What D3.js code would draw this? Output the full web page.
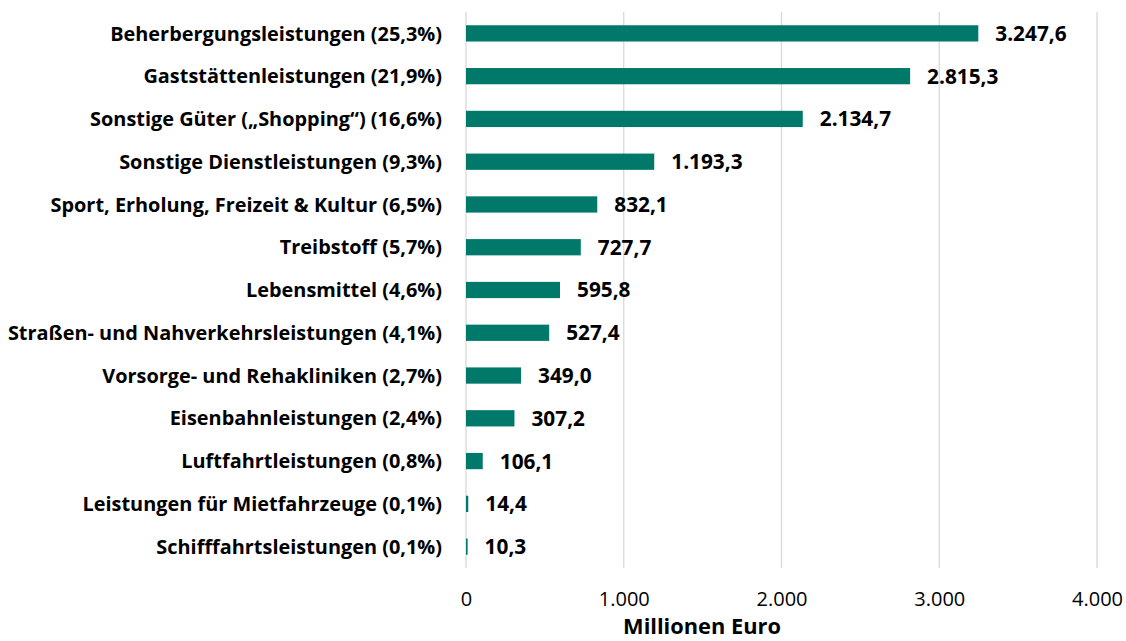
<!DOCTYPE html>
<html><head><meta charset="utf-8">
<script src="https://cdn.jsdelivr.net/npm/d3@7"></script>
<style>body{margin:0;background:#fff}svg{display:block}</style>
</head><body>
<svg id="c" width="1126" height="641"></svg>
<script>
const categories = [
  "Beherbergungsleistungen (25,3%)",
  "Gaststättenleistungen (21,9%)",
  "Sonstige Güter („Shopping“) (16,6%)",
  "Sonstige Dienstleistungen (9,3%)",
  "Sport, Erholung, Freizeit & Kultur (6,5%)",
  "Treibstoff (5,7%)",
  "Lebensmittel (4,6%)",
  "Straßen- und Nahverkehrsleistungen (4,1%)",
  "Vorsorge- und Rehakliniken (2,7%)",
  "Eisenbahnleistungen (2,4%)",
  "Luftfahrtleistungen (0,8%)",
  "Leistungen für Mietfahrzeuge (0,1%)",
  "Schifffahrtsleistungen (0,1%)"
];
const values = [3247.6, 2815.3, 2134.7, 1193.3, 832.1, 727.7, 595.8, 527.4, 349.0, 307.2, 106.1, 14.4, 10.3];
const tickValues = [0, 1000, 2000, 3000, 4000];
const axisTitle = "Millionen Euro";

const de = d3.formatLocale({decimal: ",", thousands: ".", grouping: [3], currency: ["", " €"]});
const fmtVal = de.format(",.1f");
const fmtTick = de.format(",d");

const svg = d3.select("#c");
const font = "'Open Sans', sans-serif";
const x = d3.scaleLinear().domain([0, 4000]).range([466, 1097]);
const y = d3.scaleBand().domain(categories).range([12, 568]).paddingInner(0.62).paddingOuter(0.31);

// grid
svg.append("g").selectAll("line").data(tickValues).join("line")
  .attr("x1", d => x(d)).attr("x2", d => x(d))
  .attr("y1", 12).attr("y2", 568)
  .attr("stroke", "#d9d9d9").attr("stroke-width", 1.3);

// bars
svg.append("g").selectAll("rect").data(values).join("rect")
  .attr("x", x(0)).attr("y", (d, i) => y(categories[i]))
  .attr("width", d => x(d) - x(0)).attr("height", y.bandwidth())
  .attr("fill", "#00786A");

// category labels
svg.append("g").selectAll("text").data(categories).join("text")
  .attr("x", 442).attr("y", d => y(d) + y.bandwidth() / 2)
  .attr("dy", "0.36em").attr("text-anchor", "end")
  .attr("font-family", font).attr("font-weight", "bold").attr("font-size", 19.9)
  .attr("fill", "#000").text(d => d);

// value labels
svg.append("g").selectAll("text").data(values).join("text")
  .attr("x", d => x(d) + 17).attr("y", (d, i) => y(categories[i]) + y.bandwidth() / 2)
  .attr("dy", "0.36em").attr("text-anchor", "start")
  .attr("font-family", font).attr("font-weight", "bold").attr("font-size", 20.8)
  .attr("fill", "#000").text(d => fmtVal(d));

// x axis
const axis = d3.axisBottom(x).tickValues(tickValues).tickFormat(fmtTick).tickSize(0).tickPadding(0);
const ga = svg.append("g").attr("transform", "translate(0,606)").call(axis);
ga.select(".domain").remove();
ga.selectAll("text").attr("font-family", font).attr("font-size", 20).attr("fill", "#000").attr("dy", 0).attr("y", 0);

svg.append("text").attr("x", 702).attr("y", 634).attr("text-anchor", "middle")
  .attr("font-family", font).attr("font-weight", "bold").attr("font-size", 21.8)
  .attr("fill", "#000").text(axisTitle);
</script>
</body></html>
